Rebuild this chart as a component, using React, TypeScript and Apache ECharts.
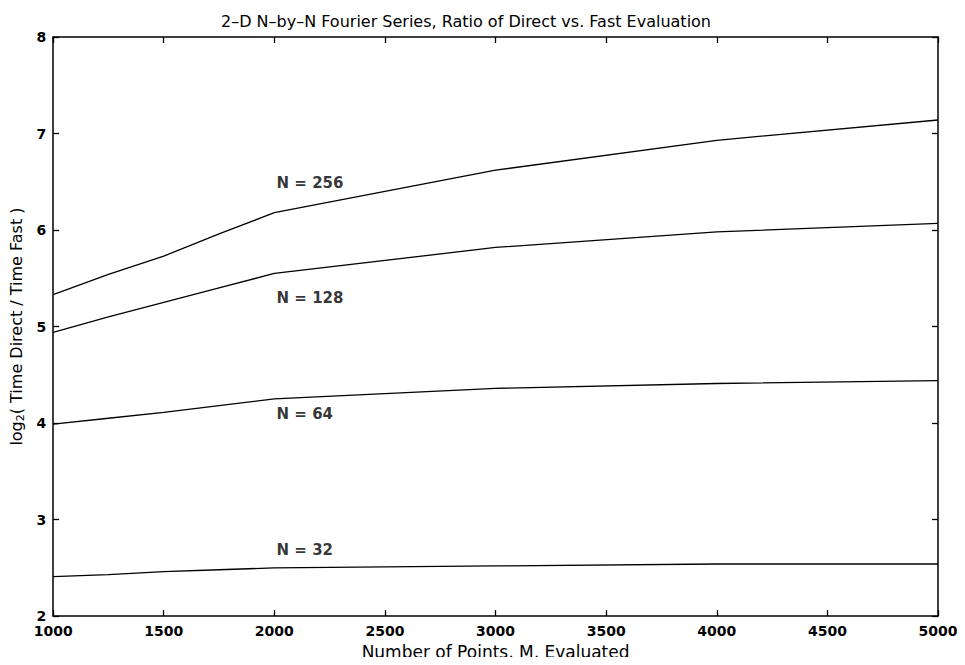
import React, { useEffect, useRef } from "react";
import * as echarts from "echarts";

const mValues = [1000, 1250, 1500, 1750, 2000, 3000, 4000, 5000];
const n256 = [5.33, 5.54, 5.73, 5.96, 6.18, 6.62, 6.93, 7.14];
const n128 = [4.94, 5.1, 5.25, 5.4, 5.55, 5.82, 5.98, 6.07];
const n64 = [3.99, 4.05, 4.11, 4.18, 4.25, 4.36, 4.41, 4.44];
const n32 = [2.41, 2.43, 2.46, 2.48, 2.5, 2.52, 2.54, 2.54];
const seriesNames = ["N = 256", "N = 128", "N = 64", "N = 32"];
const labelX = [2010, 2010, 2010, 2010];
const labelY = [6.49, 5.3, 4.09, 2.69];

const FONT = "'DejaVu Sans', Verdana, sans-serif";

export default function App() {
  const ref = useRef<HTMLDivElement>(null);
  useEffect(() => {
    if (!ref.current) return;
    const chart = echarts.init(ref.current, undefined, { renderer: "svg" });
    const allSeries = [n256, n128, n64, n32];
    const axisLine = { show: true, lineStyle: { color: "#000", width: 1.5 } };
    const tick = { show: true, inside: true, length: 6, lineStyle: { color: "#000", width: 1.3 } };
    chart.setOption({
      animation: false,
      backgroundColor: "#fff",
      textStyle: { fontFamily: FONT },
      title: {
        text: "2–D N–by–N Fourier Series, Ratio of Direct vs. Fast Evaluation",
        left: 216,
        top: 8,
        textStyle: { fontFamily: FONT, fontSize: 16, fontWeight: "normal", color: "#000" },
      },
      grid: { left: 52, right: 27, top: 37, bottom: 48 },
      xAxis: [
        {
          type: "value",
          min: 1000,
          max: 5000,
          interval: 500,
          position: "bottom",
          axisLine,
          axisTick: tick,
          splitLine: { show: false },
          axisLabel: {
            color: "#000",
            fontSize: 14,
            fontWeight: "bold",
            margin: 8,
            fontFamily: FONT,
            formatter: (v: number) => String(v),
          },
          name: "Number of Points, M, Evaluated",
          nameLocation: "middle",
          nameGap: 24,
          nameTextStyle: { color: "#000", fontSize: 17, fontFamily: FONT },
        },
        {
          type: "value",
          min: 1000,
          max: 5000,
          interval: 500,
          position: "top",
          axisLine,
          axisTick: tick,
          splitLine: { show: false },
          axisLabel: { show: false },
        },
      ],
      yAxis: [
        {
          type: "value",
          min: 2,
          max: 8,
          interval: 1,
          position: "left",
          axisLine,
          axisTick: tick,
          splitLine: { show: false },
          axisLabel: { color: "#000", fontSize: 14, fontWeight: "bold", margin: 7, fontFamily: FONT },
          name: "log{sub|2}( Time Direct / Time Fast )",
          nameLocation: "middle",
          nameGap: 18,
          nameTextStyle: {
            color: "#000",
            fontSize: 16,
            fontFamily: FONT,
            rich: {
              sub: { fontSize: 11, verticalAlign: "bottom", padding: [8, 0, 0, 0], color: "#000", fontFamily: FONT },
            },
          },
        },
        {
          type: "value",
          min: 2,
          max: 8,
          interval: 1,
          position: "right",
          axisLine,
          axisTick: tick,
          splitLine: { show: false },
          axisLabel: { show: false },
        },
      ],
      series: [
        ...allSeries.map((vals, i) => ({
          type: "line",
          name: seriesNames[i],
          data: mValues.map((m, j) => [m, vals[j]]),
          showSymbol: false,
          symbol: "none",
          lineStyle: { color: "#000", width: 1.3 },
          xAxisIndex: 0,
          yAxisIndex: 0,
        })),
        {
          type: "scatter",
          symbolSize: 0,
          xAxisIndex: 0,
          yAxisIndex: 0,
          data: seriesNames.map((n, i) => ({ name: n, value: [labelX[i], labelY[i]] })),
          label: {
            show: true,
            position: "right",
            distance: 0,
            formatter: (p: any) => p.name,
            color: "#000",
            fontSize: 15,
            fontWeight: "bold",
            fontFamily: FONT,
          },
        },
      ],
    });
    return () => chart.dispose();
  }, []);
  return <div ref={ref} style={{ width: 965, height: 665, margin: -8 }} />;
}
